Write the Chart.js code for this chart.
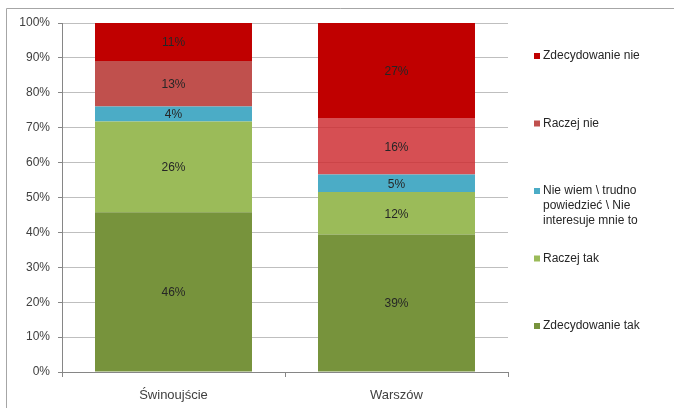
<!DOCTYPE html>
<html>
<head>
<meta charset="utf-8">
<script src="https://cdn.jsdelivr.net/npm/chart.js@4"></script>
<style>
  html, body { margin: 0; padding: 0; background: #fff; }
  #wrap { width: 674px; height: 408px; }
</style>
</head>
<body>
<div id="wrap"><canvas id="chart" width="674" height="408"></canvas></div>
<script>
// values (share of answers, %)
const cities = ['Świnoujście', 'Warszów'];
const zdecydowanieTak = [45.8, 39.4];
const raczejTak = [26.0, 12.2];
const nieWiem = [4.3, 5.0];
const raczejNie = [13.0, 16.2];
const zdecydowanieNie = [10.9, 27.2];
const yTicks = ['0%', '10%', '20%', '30%', '40%', '50%', '60%', '70%', '80%', '90%', '100%'];

const FONT = '"Liberation Sans", Arial, sans-serif';

// labels inside the bar segments
const segmentLabels = {
  id: 'segmentLabels',
  afterDatasetsDraw(chart) {
    const ctx = chart.ctx;
    ctx.save();
    ctx.font = '12px ' + FONT;
    ctx.fillStyle = '#262626';
    ctx.textAlign = 'center';
    ctx.textBaseline = 'middle';
    chart.data.datasets.forEach((ds, i) => {
      chart.getDatasetMeta(i).data.forEach((bar, j) => {
        const y = (bar.y + bar.base) / 2;
        ctx.fillText(Math.round(ds.data[j]) + '%', bar.x, y + 1);
      });
    });
    ctx.restore();
  }
};

// legend on the right, top item = last series
const sideLegend = {
  id: 'sideLegend',
  afterDraw(chart) {
    const ctx = chart.ctx;
    ctx.save();
    ctx.font = '12px ' + FONT;
    ctx.textBaseline = 'middle';
    const items = chart.data.datasets.slice().reverse();
    items.forEach((ds, k) => {
      const y = 56 + k * 67.5;
      const c = Array.isArray(ds.backgroundColor) ? ds.backgroundColor[0] : ds.backgroundColor;
      ctx.fillStyle = c;
      ctx.fillRect(534, y - 3, 6, 6);
      ctx.fillStyle = '#262626';
      // wrap long names
      const words = ds.label.split(' ');
      const lines = [];
      let cur = '';
      words.forEach(w => {
        const t = cur ? cur + ' ' + w : w;
        if (ctx.measureText(t).width > 106 && cur) { lines.push(cur); cur = w; }
        else cur = t;
      });
      lines.push(cur);
      lines.forEach((ln, n) => ctx.fillText(ln, 543, y + n * 15));
    });
    ctx.restore();
  }
};

const frame = {
  id: 'frame',
  beforeDraw(chart) {
    const ctx = chart.ctx;
    ctx.save();
    ctx.fillStyle = '#fff';
    ctx.fillRect(0, 0, chart.width, chart.height);
    ctx.strokeStyle = '#a6a6a6';
    ctx.lineWidth = 1;
    ctx.beginPath();
    ctx.moveTo(6.5, chart.height);
    ctx.lineTo(6.5, 8.5);
    ctx.lineTo(chart.width, 8.5);
    ctx.stroke();
    ctx.restore();
  }
};

new Chart(document.getElementById('chart'), {
  type: 'bar',
  data: {
    labels: cities,
    datasets: [
      { label: 'Zdecydowanie tak', data: zdecydowanieTak, backgroundColor: '#77933c' },
      { label: 'Raczej tak', data: raczejTak, backgroundColor: '#9bbb59' },
      { label: 'Nie wiem \\ trudno powiedzieć \\ Nie interesuje mnie to', data: nieWiem, backgroundColor: '#4bacc6' },
      { label: 'Raczej nie', data: raczejNie, backgroundColor: ['#c0504d', 'rgba(205,40,45,0.82)'] },
      { label: 'Zdecydowanie nie', data: zdecydowanieNie, backgroundColor: '#c00000' }
    ]
  },
  options: {
    responsive: false,
    animation: false,
    devicePixelRatio: 1,
    layout: { padding: { top: 23, right: 166, left: 0, bottom: 0 } },
    datasets: { bar: { categoryPercentage: 1, barPercentage: 0.704, borderWidth: 0 } },
    plugins: {
      legend: { display: false },
      tooltip: { enabled: false }
    },
    scales: {
      x: {
        stacked: true,
        afterFit(scale) { scale.height = 36; },
        grid: { drawOnChartArea: false, drawTicks: true, tickLength: 5, color: '#868686', offset: true },
        border: { color: '#868686' },
        ticks: { color: '#404040', font: { family: FONT, size: 13 }, padding: 11 }
      },
      y: {
        stacked: true,
        min: 0,
        max: 100,
        afterFit(scale) { scale.width = 62; },
        grid: { color: '#bfbfbf', tickLength: 4, tickColor: '#868686' },
        border: { color: '#868686' },
        ticks: {
          stepSize: 10,
          padding: 8,
          color: '#404040',
          font: { family: FONT, size: 12 },
          callback: (v, i) => yTicks[i]
        }
      }
    }
  },
  plugins: [frame, segmentLabels, sideLegend]
});
</script>
</body>
</html>
